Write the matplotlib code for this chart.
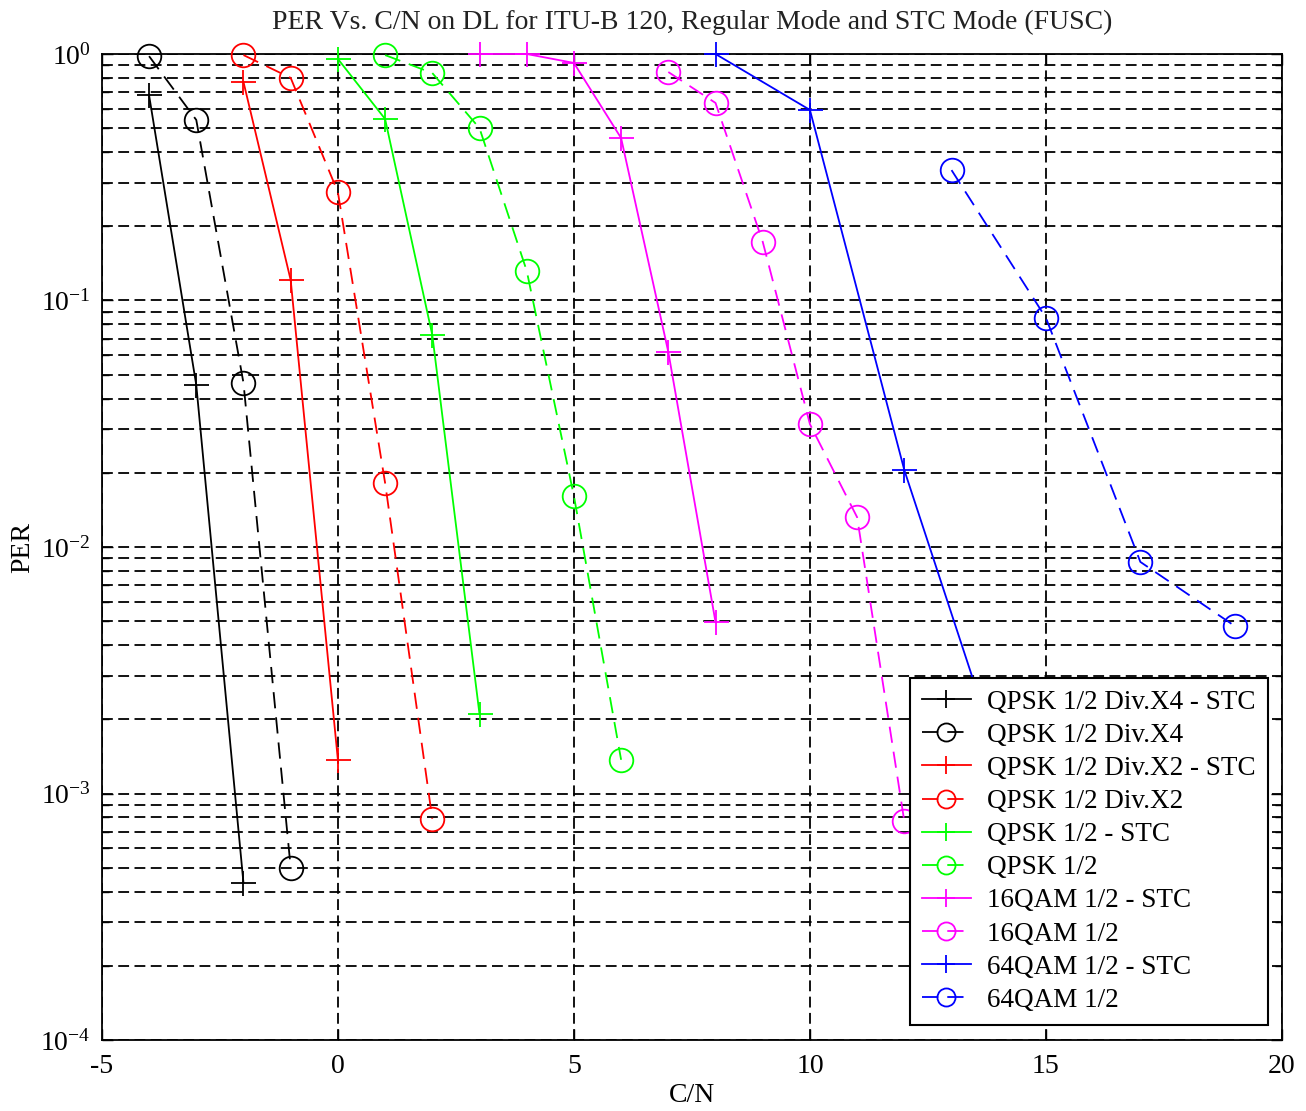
import matplotlib
matplotlib.use("Agg")
import matplotlib.pyplot as plt
import numpy as np

plt.rcParams['font.family'] = ['Liberation Serif', 'DejaVu Serif']
plt.rcParams['mathtext.fontset'] = 'custom'
plt.rcParams['mathtext.rm'] = 'Liberation Serif'
plt.rcParams['mathtext.it'] = 'Liberation Serif:italic'

title = "PER Vs. C/N on DL for ITU-B 120, Regular Mode and STC Mode (FUSC)"
xlabel = "C/N"
ylabel = "PER"

labels = ["QPSK 1/2 Div.X4 - STC", "QPSK 1/2 Div.X4",
          "QPSK 1/2 Div.X2 - STC", "QPSK 1/2 Div.X2",
          "QPSK 1/2 - STC", "QPSK 1/2",
          "16QAM 1/2 - STC", "16QAM 1/2",
          "64QAM 1/2 - STC", "64QAM 1/2"]
colors = ["#000000", "#000000", "#FF0000", "#FF0000", "#00FF00", "#00FF00",
          "#FF00FF", "#FF00FF", "#0000FF", "#0000FF"]

qpsk_x4_stc_x = [-4, -3, -2]
qpsk_x4_stc_y = [0.68, 0.0454, 4.33e-4]
qpsk_x4_x = [-4, -3, -2, -1]
qpsk_x4_y = [0.98, 0.54, 0.0463, 5.0e-4]
qpsk_x2_stc_x = [-2, -1, 0]
qpsk_x2_stc_y = [0.77, 0.121, 1.37e-3]
qpsk_x2_x = [-2, -1, 0, 1, 2]
qpsk_x2_y = [0.99, 0.80, 0.275, 0.0182, 7.9e-4]
qpsk_stc_x = [0, 1, 2, 3]
qpsk_stc_y = [0.955, 0.545, 0.0724, 2.1e-3]
qpsk_x = [1, 2, 3, 4, 5, 6]
qpsk_y = [0.99, 0.837, 0.50, 0.132, 0.0161, 1.37e-3]
qam16_stc_x = [3, 4, 5, 6, 7, 8]
qam16_stc_y = [1.0, 1.0, 0.92, 0.456, 0.0618, 4.96e-3]
qam16_x = [7, 8, 9, 10, 11, 12]
qam16_y = [0.845, 0.633, 0.173, 0.0315, 0.0132, 7.7e-4]
qam64_stc_x = [8, 10, 12, 14]
qam64_stc_y = [1.0, 0.593, 0.0205, 1.4e-3]
qam64_x = [13, 15, 17, 19]
qam64_y = [0.338, 0.085, 8.7e-3, 4.78e-3]

xs = [qpsk_x4_stc_x, qpsk_x4_x, qpsk_x2_stc_x, qpsk_x2_x, qpsk_stc_x, qpsk_x,
      qam16_stc_x, qam16_x, qam64_stc_x, qam64_x]
ys = [qpsk_x4_stc_y, qpsk_x4_y, qpsk_x2_stc_y, qpsk_x2_y, qpsk_stc_y, qpsk_y,
      qam16_stc_y, qam16_y, qam64_stc_y, qam64_y]

xticks = [-5, 0, 5, 10, 15, 20]
yticks = [1e-4, 1e-3, 1e-2, 1e-1, 1e0]
yticklabels = [r"$10^{-4}$", r"$10^{-3}$", r"$10^{-2}$", r"$10^{-1}$", r"$10^{0}$"]

fig = plt.figure(figsize=(13.06, 11.11), dpi=100)
ax = fig.add_axes([0.078, 0.0639, 0.9036, 0.8875])

for i in range(len(labels)):
    stc = (i % 2 == 0)
    if stc:
        ax.plot(xs[i], ys[i], color=colors[i], linestyle='-', linewidth=1.3,
                marker='+', markersize=18, markeredgewidth=1.3, label=labels[i],
                clip_on=False, zorder=3)
    else:
        ax.plot(xs[i], ys[i], color=colors[i], linestyle=(0, (9, 5)), linewidth=1.3,
                marker='o', markersize=17, markerfacecolor='none', markeredgewidth=1.3,
                label=labels[i], clip_on=False, zorder=3)

ax.set_yscale('log')
ax.set_xlim(-5, 20)
ax.set_ylim(1e-4, 1)
ax.set_xticks(xticks)
ax.set_xticklabels([str(v) for v in xticks])
ax.set_yticks(yticks)
ax.set_yticklabels(yticklabels)
ax.yaxis.set_minor_locator(matplotlib.ticker.LogLocator(base=10, subs=np.arange(2, 10)))
ax.yaxis.set_minor_formatter(matplotlib.ticker.NullFormatter())

ax.grid(True, which='major', axis='both', color='black', linestyle=(0, (6, 3)), linewidth=1.3)
ax.grid(True, which='minor', axis='y', color='black', linestyle=(0, (6, 3)), linewidth=1.3)
ax.set_axisbelow(True)

ax.tick_params(axis='both', which='both', direction='in', top=True, right=True,
               labelsize=20, length=8, width=1.0)
ax.tick_params(axis='both', which='minor', length=5)
ax.tick_params(axis='x', pad=10)
ax.tick_params(axis='y', pad=8)
for sp in ax.spines.values():
    sp.set_linewidth(1.3)

ax.set_title(title, fontsize=20, color='#222222', pad=18)
ax.set_xlabel(xlabel, fontsize=20, labelpad=3)
ax.set_ylabel(ylabel, fontsize=20, labelpad=4)

leg = ax.legend(loc='lower right', fontsize=19.5, frameon=True, fancybox=False,
                edgecolor='black', framealpha=1.0, handlelength=1.8,
                labelspacing=0.30, borderpad=0.45, handletextpad=0.6,
                borderaxespad=0.0, bbox_to_anchor=(0.988, 0.0152))
leg.get_frame().set_linewidth(1.5)
leg.set_zorder(5)
for h in leg.legend_handles:
    h.set_markersize(13)

fig.savefig("out.png", dpi=100, facecolor='white')
